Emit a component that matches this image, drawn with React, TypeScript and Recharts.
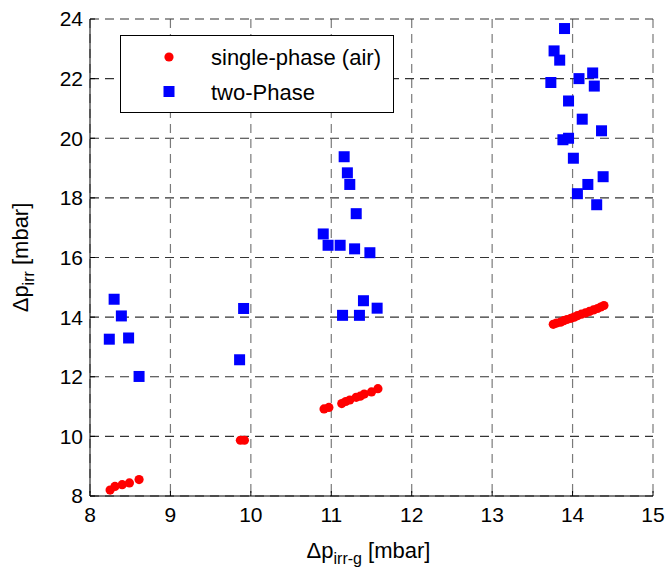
import React from "react";
import { CartesianGrid, Legend, Scatter, ScatterChart, XAxis, YAxis } from "recharts";

// single-phase (air) measurements
const singleX = [8.25, 8.31, 8.40, 8.49, 8.61, 9.87, 9.92, 10.91, 10.97, 11.13, 11.18, 11.23, 11.31, 11.36, 11.41, 11.50, 11.58,
    13.76, 13.80, 13.85, 13.89, 13.93, 13.98, 14.02, 14.06, 14.11, 14.16, 14.21, 14.26, 14.31, 14.35, 14.39];
const singleY = [8.2, 8.32, 8.38, 8.44, 8.55, 9.87, 9.87, 10.92, 10.97, 11.1, 11.17, 11.22, 11.31, 11.35, 11.42, 11.49, 11.6,
    13.76, 13.8, 13.83, 13.88, 13.92, 13.96, 14.0, 14.05, 14.1, 14.14, 14.19, 14.24, 14.29, 14.34, 14.39];

// two-phase measurements
const twoX = [8.30, 8.39, 8.24, 8.48, 8.61, 9.91, 9.86,
    11.16, 11.20, 11.23, 11.31, 10.90, 10.96, 11.11, 11.29, 11.48, 11.40, 11.57, 11.14, 11.35,
    13.90, 13.77, 13.84, 13.73, 14.08, 14.25, 14.27, 13.95, 14.12, 14.36, 13.88, 13.95, 14.01, 14.38, 14.19, 14.06, 14.30];
const twoY = [14.6, 14.04, 13.26, 13.3, 12.01, 14.29, 12.57,
    19.38, 18.84, 18.45, 17.47, 16.79, 16.41, 16.41, 16.29, 16.16, 14.55, 14.3, 14.06, 14.06,
    23.68, 22.93, 22.62, 21.87, 22.0, 22.19, 21.75, 21.25, 20.64, 20.25, 19.95, 20.0, 19.33, 18.71, 18.45, 18.14, 17.77];

const xTicks = [8, 9, 10, 11, 12, 13, 14, 15];
const yTicks = [8, 10, 12, 14, 16, 18, 20, 22, 24];

const singleData = singleX.map((x, i) => ({ x, y: singleY[i] }));
const twoData = twoX.map((x, i) => ({ x, y: twoY[i] }));

const FONT = '"Liberation Sans", Arial, sans-serif';

function RedDot(props: any) {
    return <circle cx={props.cx} cy={props.cy} r={4.6} fill="#ff0000" />;
}

function BlueSquare(props: any) {
    return <rect x={props.cx - 5.5} y={props.cy - 5.5} width={11} height={11} fill="#0000ff" />;
}

function LegendBox() {
    return (
        <svg width={274} height={78} style={{ display: "block" }}>
            <rect x={0.5} y={0.5} width={273} height={77} fill="#fff" stroke="#000" />
            <circle cx={49} cy={22} r={4.6} fill="#ff0000" />
            <rect x={43.5} y={51} width={11} height={11} fill="#0000ff" />
            <text x={91} y={30} fontFamily={FONT} fontSize={22} fill="#000">single-phase (air)</text>
            <text x={91} y={65} fontFamily={FONT} fontSize={22} fill="#000">two-Phase</text>
        </svg>
    );
}

function XLabel(props: any) {
    const vb = props.viewBox;
    const cx = vb.x + vb.width / 2;
    return (
        <text x={cx - 3} y={558} textAnchor="middle" fontFamily={FONT} fontSize={22} fill="#000">
            Δp<tspan fontSize={16} dy={6}>irr-g</tspan><tspan dy={-6}> [mbar]</tspan>
        </text>
    );
}

function YLabel(props: any) {
    const vb = props.viewBox;
    const cy = vb.y + vb.height / 2;
    return (
        <text x={28} y={cy} transform={`rotate(-90, 28, ${cy})`} textAnchor="middle" fontFamily={FONT} fontSize={22} fill="#000">
            Δp<tspan fontSize={16} dy={6}>irr</tspan><tspan dy={-6}> [mbar]</tspan>
        </text>
    );
}

export default function App() {
    return (
        <div style={{ position: "absolute", left: 0, top: 0, background: "#fff" }}>
            <ScatterChart width={665} height={569} margin={{ top: 19, right: 12, bottom: 13, left: 30 }}>
                <CartesianGrid horizontal={false} stroke="#7a7a7a" strokeDasharray="9 6" strokeWidth={1.2} />
                <CartesianGrid vertical={false} stroke="#333" strokeDasharray="9 6" strokeWidth={1.2} />
                <XAxis
                    type="number"
                    dataKey="x"
                    domain={[8, 15]}
                    ticks={xTicks}
                    allowDataOverflow
                    height={60}
                    tickSize={-5}
                    tickMargin={16}
                    stroke="#000"
                    tick={{ fontSize: 21, fill: "#000", fontFamily: FONT }}
                    label={<XLabel />}
                />
                <XAxis
                    xAxisId="top"
                    orientation="top"
                    type="number"
                    domain={[8, 15]}
                    ticks={xTicks}
                    height={0}
                    mirror
                    tick={false}
                    tickSize={5}
                    stroke="#000"
                />
                <YAxis
                    type="number"
                    dataKey="y"
                    domain={[8, 24]}
                    ticks={yTicks}
                    allowDataOverflow
                    width={60}
                    tickSize={-5}
                    tickMargin={12}
                    stroke="#000"
                    tick={{ fontSize: 21, fill: "#000", fontFamily: FONT }}
                    label={<YLabel />}
                />
                <YAxis
                    yAxisId="right"
                    orientation="right"
                    type="number"
                    domain={[8, 24]}
                    ticks={yTicks}
                    width={0}
                    mirror
                    tick={false}
                    tickSize={5}
                    stroke="#000"
                />
                <Legend
                    layout="vertical"
                    align="center"
                    verticalAlign="middle"
                    wrapperStyle={{ left: 120, top: 35, width: 274, height: 78 }}
                    content={() => <LegendBox />}
                />
                <Scatter name="single-phase (air)" data={singleData} shape={<RedDot />} isAnimationActive={false} />
                <Scatter name="two-Phase" data={twoData} shape={<BlueSquare />} isAnimationActive={false} />
            </ScatterChart>
        </div>
    );
}
